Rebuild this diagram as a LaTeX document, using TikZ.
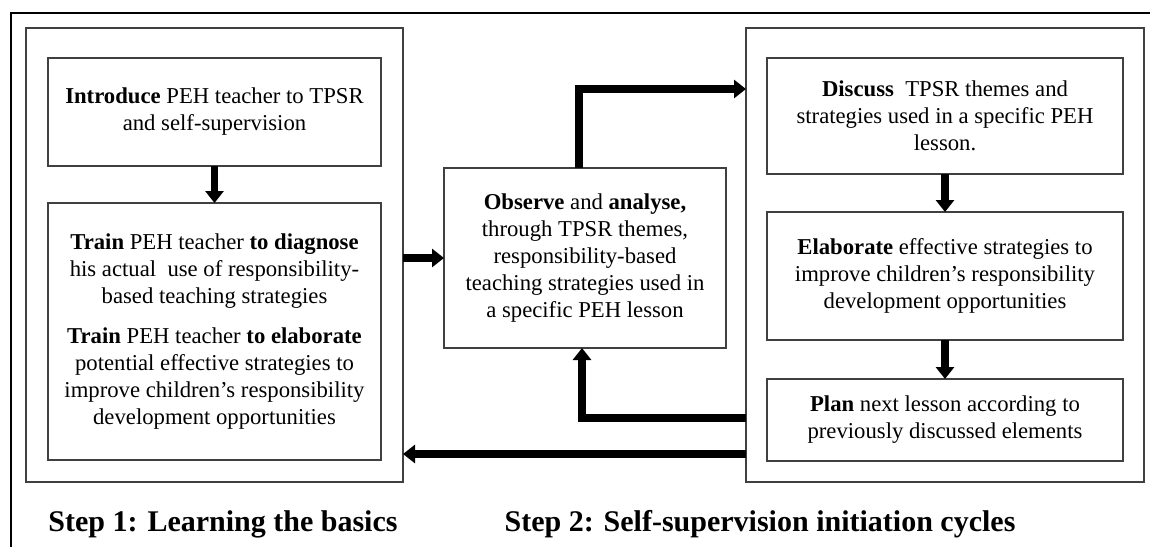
\documentclass[tikz,border=0pt]{standalone}
\usepackage{fontspec}
\setmainfont{Liberation Serif}
\usetikzlibrary{arrows.meta}
\tikzset{
  box/.style={draw=black!75, line width=1.2pt, rectangle, inner sep=0pt, outer sep=0pt, align=center,
    font=\fontsize{22.7}{27}\selectfont},
  frame/.style={draw=black!75, line width=1.3pt, rectangle, inner sep=0pt, outer sep=0pt},
  arr/.style={line width=7.5pt, -{Triangle[width=18pt,length=12pt]}},
  title/.style={font=\fontsize{30}{34}\selectfont\bfseries, anchor=base, inner sep=0pt}
}
\begin{document}
\begin{tikzpicture}[x=1pt,y=-1pt]
\useasboundingbox (0,0) rectangle (1150,546);
% outer frame
\draw[line width=2pt] (1152,13) -- (11,13) -- (11,548);
% step frames
\node[frame, minimum width=377pt, minimum height=454pt] (step1) at (214.5,255) {};
\node[frame, minimum width=398pt, minimum height=454pt] (step2) at (945,255) {};
% step 1 boxes
\node[box, minimum width=333pt, minimum height=108pt] (intro) at (214.5,112)
  {\textbf{Introduce} PEH teacher to TPSR\\and self-supervision};
\node[box, minimum width=333pt, minimum height=257pt] (train) at (214.5,331.5)
  {\textbf{Train} PEH teacher \textbf{to diagnose}\\his actual\ \ use of responsibility-\\based teaching strategies\\[13pt]
   \textbf{Train} PEH teacher \textbf{to elaborate}\\potential effective strategies to\\improve children’s responsibility\\development opportunities};
% middle box
\node[box, minimum width=282pt, minimum height=180pt] (observe) at (585,258)
  {\textbf{Observe} and \textbf{analyse,}\\through TPSR themes,\\responsibility-based\\teaching strategies used in\\a specific PEH lesson};
% step 2 boxes
\node[box, minimum width=356pt, minimum height=116pt] (discuss) at (945,116)
  {\textbf{Discuss}\ \ TPSR themes and\\strategies used in a specific PEH\\lesson.};
\node[box, minimum width=356pt, minimum height=128pt] (elab) at (945,276)
  {\textbf{Elaborate} effective strategies to\\improve children’s responsibility\\development opportunities};
\node[box, minimum width=356pt, minimum height=82pt] (plan) at (945,420)
  {\textbf{Plan} next lesson according to\\previously discussed elements};
% titles
\node[title] (t1) at (223,531) {Step 1: Learning the basics};
\node[title] (t2) at (760,531) {Step 2: Self-supervision initiation cycles};
% connectors
\coordinate (botR) at (746,454);
\draw[arr] (intro) -- (train);
\draw[arr] (discuss) -- (elab);
\draw[arr] (elab) -- (plan);
\draw[arr] (observe.west -| step1.east) -- (observe.west);
\draw[arr] ([xshift=-6pt]observe.north) |- ([yshift=27pt]discuss.west -| step2.west);
\draw[arr] ([yshift=2pt]plan.west -| step2.west) -| ([xshift=-3pt]observe.south);
\draw[arr] (botR) -- (botR -| step1.east);
\end{tikzpicture}
\end{document}
